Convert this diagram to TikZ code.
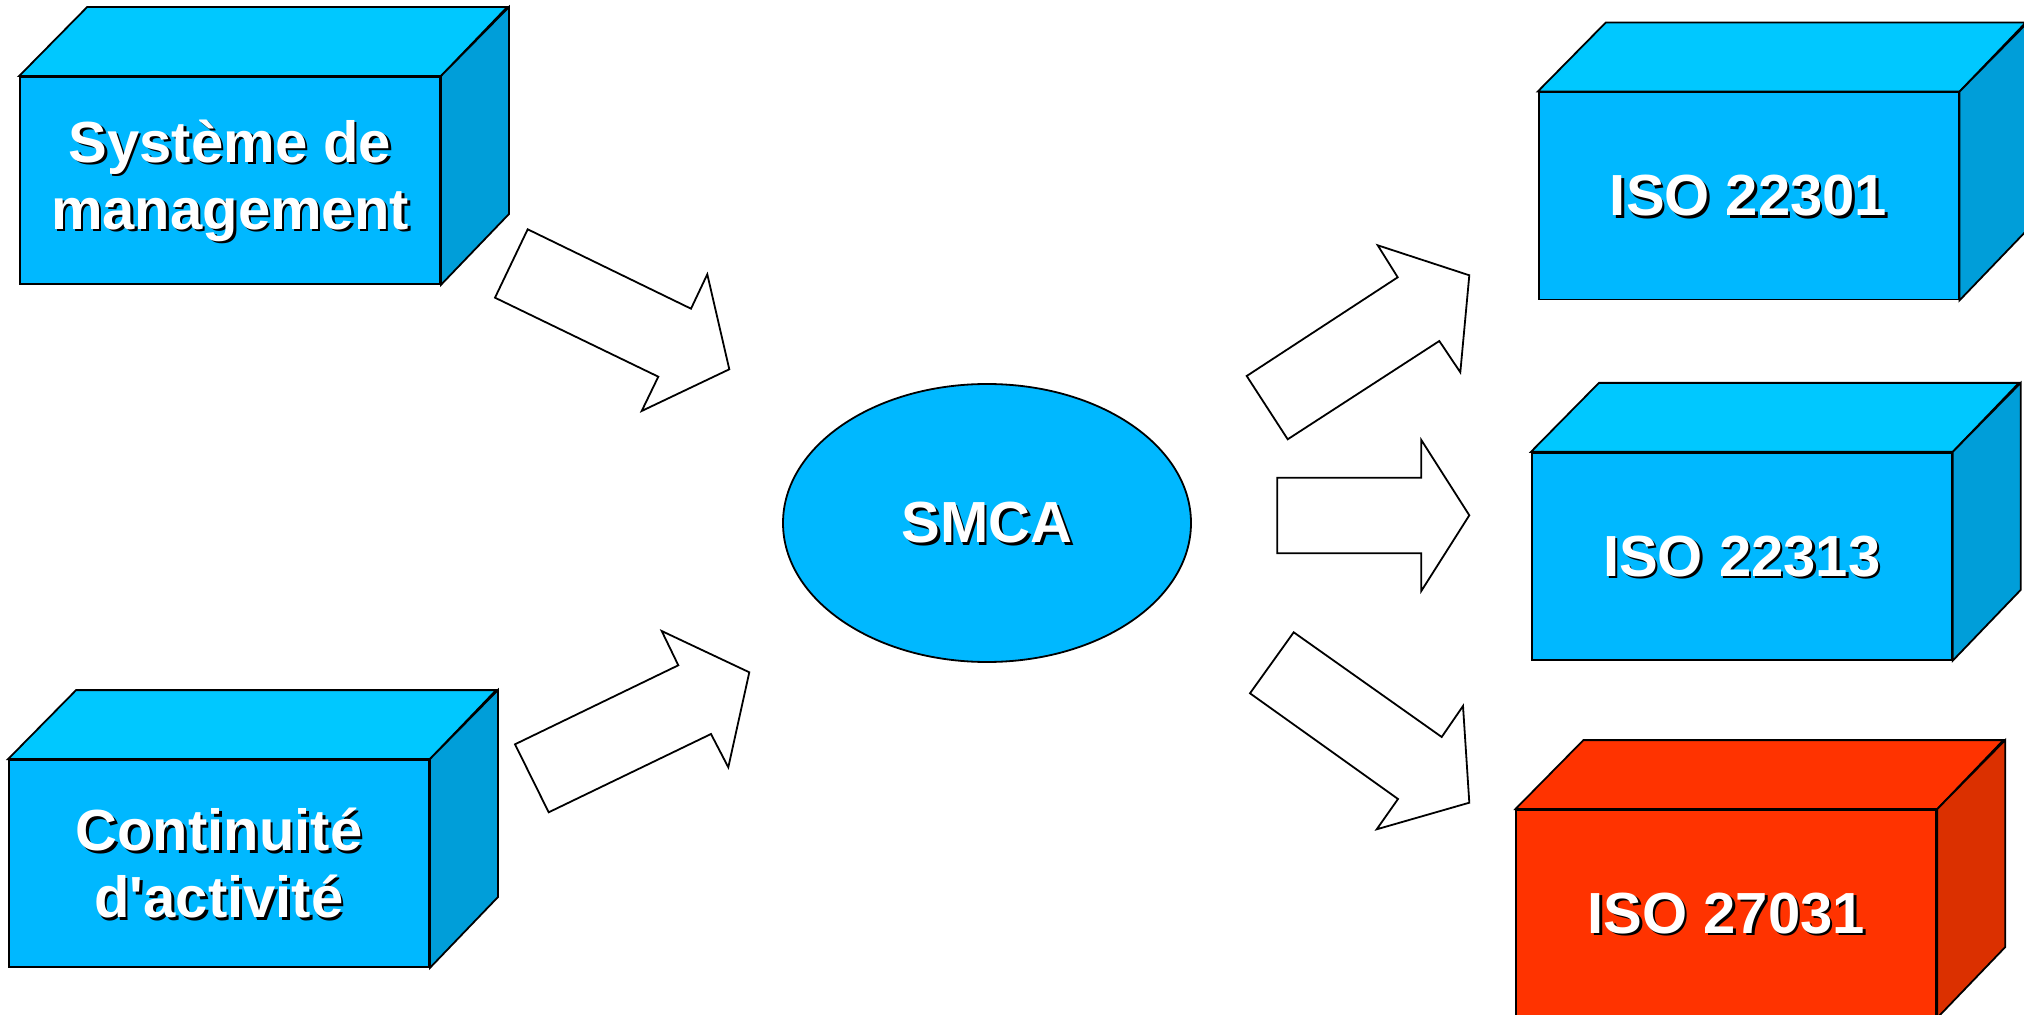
\documentclass[tikz,border=0pt]{standalone}
\usepackage{fontspec}
\setmainfont{Liberation Sans}[Ligatures=TeXOff]
\usetikzlibrary{shapes.geometric}

\definecolor{cyanFront}{RGB}{0,184,255}
\definecolor{cyanTop}{RGB}{0,200,255}
\definecolor{cyanSide}{RGB}{0,158,217}
\definecolor{redFront}{RGB}{255,51,0}
\definecolor{redSide}{RGB}{219,48,0}

\tikzset{
  outline/.style={draw=black, line width=0.9pt, line join=miter},
  frontface/.style={outline, rectangle, minimum width=210pt, minimum height=103.5pt, inner sep=0pt},
  labeltext/.style={font=\bfseries\fontsize{29}{33.5}\selectfont, align=center, inner sep=0pt},
  shadowlabel/.style={labeltext, text=black},
  whitelabel/.style={labeltext, text=white},
  blockarrow/.style={outline, fill=white},
}

% a box: front face node, then its top and right faces, then a shadowed label
\newcommand{\cubebox}[6]{%
  \node[frontface, fill=#3] (#1) at (#2) {};
  \draw[outline, fill=#4] (#1.north west) -- ++(68,-69) -- ++(420,0) -- (#1.north east) -- cycle;
  \draw[outline, fill=#5] (#1.north east) -- ++(68,-69) -- ++(0,207) -- (#1.south east) -- cycle;
  \node[shadowlabel] (#1-shadow) at ([shift={(2.5,2.5)}]#1.center) {#6};
  \node[whitelabel] (#1-label) at (#1.center) {#6};
}

\begin{document}
\begin{tikzpicture}[x=0.5pt, y=-0.5pt]
  \useasboundingbox (0,0) rectangle (2024,1015);
  \clip (0,0) rectangle (2024,1015);

  % source boxes
  \cubebox{sm}{230,180.5}{cyanFront}{cyanTop}{cyanSide}{Système de\\management}
  \cubebox{ca}{219,863.5}{cyanFront}{cyanTop}{cyanSide}{Continuité\\d'activité}

  % standards
  \cubebox{isoA}{1748.6,196}{cyanFront}{cyanTop}{cyanSide}{ISO 22301}
  \cubebox{isoB}{1741.8,556.3}{cyanFront}{cyanTop}{cyanSide}{ISO 22313}
  \cubebox{isoC}{1726.3,913.5}{redFront}{redFront}{redSide}{ISO 27031}

  % central ellipse
  \node[outline, ellipse, fill=cyanFront, minimum width=204pt, minimum height=139pt, inner sep=0pt] (smca) at (987,523) {};
  \node[shadowlabel] (smca-shadow) at ([shift={(2.5,2.5)}]smca.center) {SMCA};
  \node[whitelabel] (smca-label) at (smca.center) {SMCA};

  % block arrows into the ellipse
  \draw[blockarrow] (527.7,229.3) -- (691,308.7) -- (707.3,274.3) -- (729.3,369.3)
    -- (641.7,411) -- (658.3,376.7) -- (495,297.7) -- cycle;
  \draw[blockarrow] (548.7,812.3) -- (515,744.3) -- (678.3,665.3) -- (661.7,631)
    -- (749.3,672.3) -- (728.3,767.3) -- (711,734) -- cycle;

  % block arrows out of the ellipse
  \draw[blockarrow] (1287.7,439.3) -- (1246.7,376) -- (1397.7,277.3) -- (1377.7,245.3)
    -- (1469.3,275.3) -- (1460.3,372.3) -- (1439.3,341) -- cycle;
  \draw[blockarrow] (1277.3,477.7) -- (1421.3,477.7) -- (1421.3,440) -- (1469.3,515.3)
    -- (1421.3,591) -- (1421.3,553.3) -- (1277.3,553.3) -- cycle;
  \draw[blockarrow] (1293.7,632.3) -- (1441.7,737) -- (1463,706) -- (1469.3,802.7)
    -- (1376.7,829.3) -- (1398,799) -- (1250,693.3) -- cycle;
\end{tikzpicture}
\end{document}
